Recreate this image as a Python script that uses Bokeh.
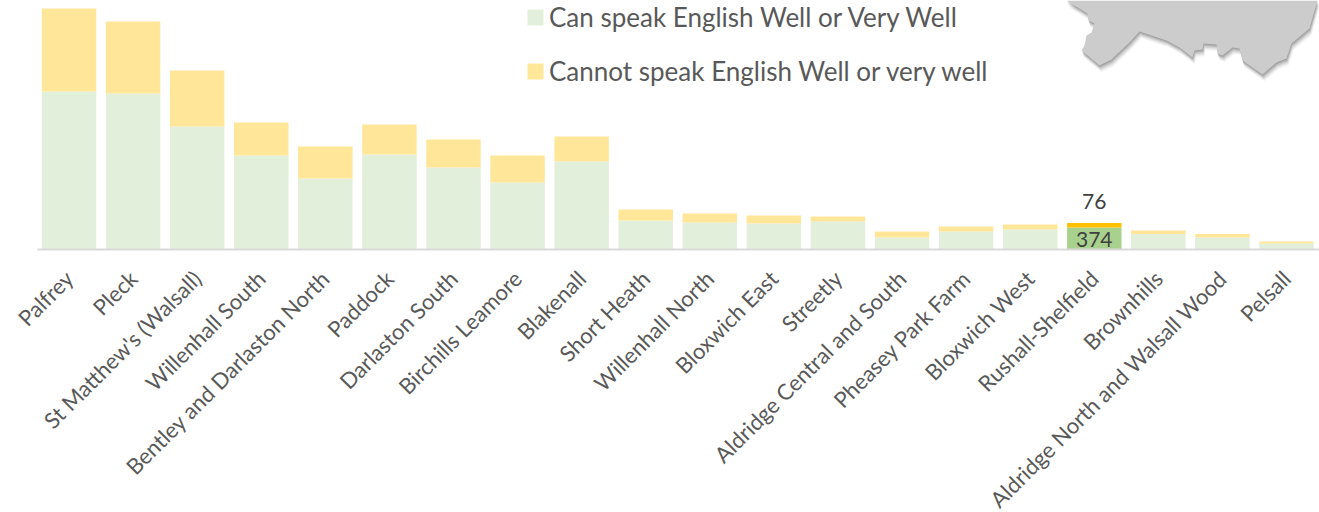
from bokeh.plotting import figure
from bokeh.models import ColumnDataSource, Range1d, LinearAxis, FixedTicker, Legend, LegendItem
from bokeh.core.properties import value
from bokeh.embed import file_html
from bokeh.resources import INLINE

wards = ["Palfrey", "Pleck", "St Matthew's (Walsall)", "Willenhall South", "Bentley and Darlaston North",
         "Paddock", "Darlaston South", "Birchills Leamore", "Blakenall", "Short Heath", "Willenhall North",
         "Bloxwich East", "Streetly", "Aldridge Central and South", "Pheasey Park Farm", "Bloxwich West",
         "Rushall-Shelfield", "Brownhills", "Aldridge North and Walsall Wood", "Pelsall"]
can_speak = [2686, 2652, 2091, 1598, 1207, 1615, 1394, 1139, 1496, 493, 459, 442, 476, 204, 306, 340, 374, 264, 204, 102]
cannot_speak = [1411, 1224, 952, 561, 544, 510, 476, 459, 425, 187, 153, 136, 85, 102, 85, 85, 76, 60, 60, 34]
highlight = "Rushall-Shelfield"

map_x = [1067, 1075, 1088, 1089, 1095, 1092, 1087, 1085, 1082, 1100, 1112, 1130, 1140, 1167, 1180, 1193, 1195,
         1203, 1204, 1217, 1218, 1223, 1233, 1240, 1243, 1263, 1277, 1287, 1292, 1310, 1318]
map_y = [0, 5, 13, 20, 23, 32, 35, 45, 50, 65, 59, 42, 31, 40, 47, 57, 50,
         49, 43, 44, 53, 55, 47, 48, 60, 74, 62, 58, 43, 28, 0]

idx = list(range(len(wards)))
low = "#E2EFDA"; high = "#FFE699"; low_hi = "#A9D18E"; high_hi = "#FFC000"
src = ColumnDataSource(dict(
    x=idx,
    base=[0] * len(idx),
    can=can_speak,
    total=[a + b for a, b in zip(can_speak, cannot_speak)],
    c1=[low_hi if w == highlight else low for w in wards],
    c2=[high_hi if w == highlight else high for w in wards],
))

W, H, BASE, LEFT = 1319, 512, 249, 37
pitch = 64.08
p = figure(width=W, height=H, frame_height=BASE, output_backend="svg", toolbar_location=None,
           x_range=Range1d((LEFT + 1 - 69.5) / pitch, (W + 1 - 69.5) / pitch),
           y_range=Range1d(0, BASE * 17),
           min_border_left=LEFT, min_border_right=0, min_border_top=0,
           min_border_bottom=0, x_axis_location=None, y_axis_location=None,
           margin=(0, 0, 0, 0))
p.outline_line_color = None
p.grid.visible = False
p.background_fill_color = "white"
p.border_fill_color = "white"

p.extra_x_ranges["px"] = Range1d(LEFT + 1, W + 1)
p.extra_y_ranges["px"] = Range1d(BASE, 0)

# map with soft shadow
for off, alpha in [(7, .03), (6, .05), (5, .07), (4, .09), (3, .11), (2, .13), (1, .15)]:
    p.patch([x + off * .3 for x in map_x], [y + off for y in map_y], x_range_name="px", y_range_name="px",
            fill_color="#444444", fill_alpha=alpha, line_color=None)
p.patch(map_x, map_y, x_range_name="px", y_range_name="px", fill_color="#CCCCCC", line_color=None)

r1 = p.vbar(x="x", bottom="base", top="can", width=0.85, fill_color="c1", line_color=None, source=src)
r2 = p.vbar(x="x", bottom="can", top="total", width=0.85, fill_color="c2", line_color=None, source=src)

ax = LinearAxis(ticker=FixedTicker(ticks=idx), major_label_overrides={i: w for i, w in enumerate(wards)})
ax.major_label_orientation = 0.7854
ax.major_label_text_font = "Lato"
ax.major_label_text_font_size = "22px"
ax.major_label_text_color = "#595959"
ax.major_label_standoff = 19
ax.major_tick_line_color = None
ax.minor_tick_line_color = None
ax.axis_line_color = "#D9D9D9"
ax.axis_line_width = 2
p.add_layout(ax, "below")

hi = wards.index(highlight)
lab = ColumnDataSource(dict(x=[hi, hi], y=[can_speak[hi] + cannot_speak[hi], can_speak[hi]],
                            t=[str(cannot_speak[hi]), str(can_speak[hi])],
                            dy=[-22, 12]))
p.text(x="x", y="y", text="t", source=lab, text_align="center", text_baseline="middle",
       text_font=value("Lato"), text_font_size="21px", text_color="#404040", y_offset="dy")

legend = Legend(items=[LegendItem(label="Can speak English Well or Very Well", renderers=[r1], index=0),
                       LegendItem(label="Cannot speak English Well or very well", renderers=[r2], index=0)],
                location=(525 - LEFT, BASE - 86.5), orientation="vertical",
                glyph_width=20, glyph_height=20, label_standoff=4, spacing=22, padding=0, margin=0,
                border_line_color=None, background_fill_alpha=0,
                label_text_font="Lato", label_text_font_size="26px", label_text_color="#595959")
p.add_layout(legend, "center")

open("out.html", "w").write(file_html(p, INLINE))
